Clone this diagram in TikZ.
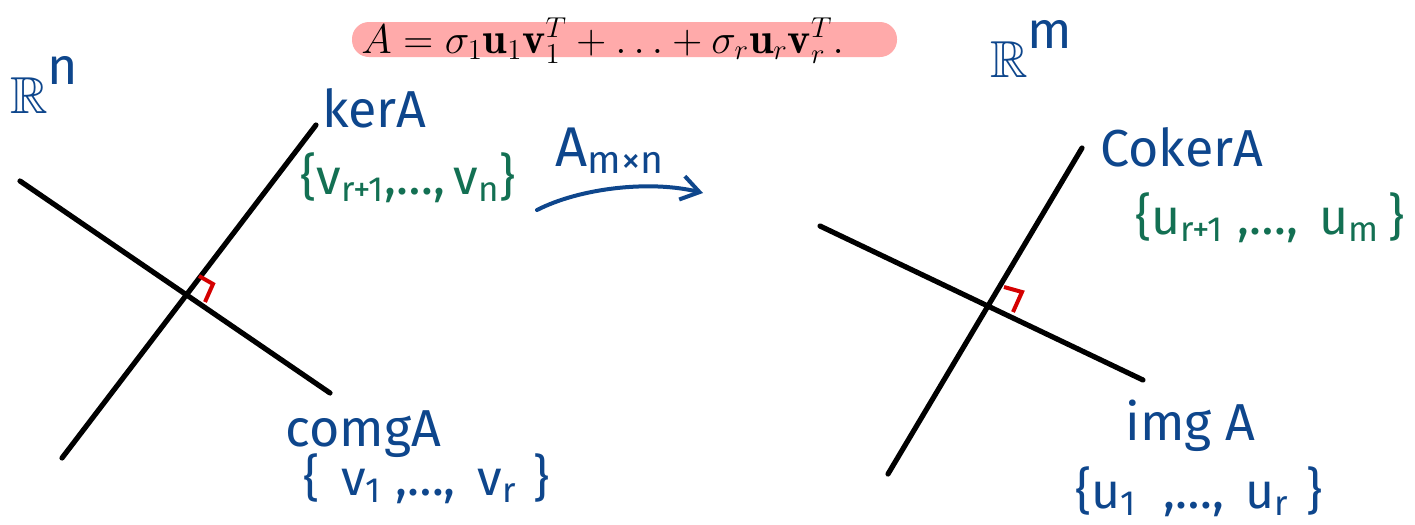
\documentclass[tikz,border=0pt]{standalone}
\usepackage{amssymb}
\usepackage{fontspec}
\newfontfamily\handfont{Fira Sans}
\usetikzlibrary{arrows.meta}
\definecolor{inkblue}{HTML}{0E468C}
\definecolor{inkgreen}{HTML}{137053}
\definecolor{inkred}{HTML}{D40000}
\definecolor{hilite}{HTML}{FFAAAA}
\begin{document}
\begin{tikzpicture}[x=0.5pt,y=-0.5pt,
  axisline/.style={line width=2.6pt,line cap=round,black},
  rightmark/.style={line width=2pt,inkred,line join=miter},
  bluelabel/.style={inkblue,font=\handfont\fontsize{26}{30}\selectfont,anchor=base west,inner sep=0pt},
  greenlabel/.style={inkgreen,font=\handfont\fontsize{25}{30}\selectfont,anchor=base west,inner sep=0pt},
  maparrow/.style={inkblue,line width=2pt,line cap=round,-{Straight Barb[length=9pt,width=12pt,line width=2pt]}}]
\useasboundingbox (0,0) rectangle (1415,525);
% formula
\fill[hilite,rounded corners=8.5pt] (352,22) rectangle (897,57);
\node[anchor=base west,inner sep=0pt,font=\fontsize{22}{26}\selectfont] (formula) at (361,53)
  {$A=\sigma_1\mathbf{u}_1\mathbf{v}_1^T+\ldots+\sigma_r\mathbf{u}_r\mathbf{v}_r^T.$};
% left space
\coordinate (kerTop) at (316,125);
\coordinate (kerBot) at (62,458);
\coordinate (comLeft) at (20,181);
\coordinate (comRight) at (330,393);
\draw[axisline] (kerTop) -- (kerBot);
\draw[axisline] (comLeft) -- (comRight);
\coordinate (lm1) at (199,276);
\coordinate (lm2) at (213,284);
\coordinate (lm3) at (205,302);
\draw[rightmark] (lm1) -- (lm2) -- (lm3);
\node[bluelabel] (Rn) at (10,113) {$\mathbb{R}$\raisebox{0.55em}{n}};
\node[bluelabel] (ker) at (322,127) {kerA};
\node[greenlabel] (kerbasis) at (300,194) {\{v\textsubscript{r+1},…,\,v\textsubscript{n}\}};
\node[bluelabel] (comg) at (285,446) {comgA};
\node[greenlabel,inkblue] (comgbasis) at (303,495) {\{ \,v\textsubscript{1} ,…, \,v\textsubscript{r}\,\,\}};
% map
\node[bluelabel,font=\handfont\fontsize{28}{32}\selectfont] (Amn) at (555,166) {A\textsubscript{m×n}};
\coordinate (arrS) at (537,210);
\coordinate (arrE) at (703,193);
\draw[maparrow] (arrS) .. controls (580,188) and (650,180) .. (arrE);
% right space
\coordinate (cokTop) at (1082,148);
\coordinate (cokBot) at (888,474);
\coordinate (imgLeft) at (820,226);
\coordinate (imgRight) at (1143,380);
\draw[axisline] (cokTop) -- (cokBot);
\draw[axisline] (imgLeft) -- (imgRight);
\coordinate (rm1) at (1004,287);
\coordinate (rm2) at (1022,292);
\coordinate (rm3) at (1013,312);
\draw[rightmark] (rm1) -- (rm2) -- (rm3);
\node[bluelabel] (Rm) at (990,77) {$\mathbb{R}$\raisebox{0.55em}{m}};
\node[bluelabel] (coker) at (1100,166) {CokerA};
\node[greenlabel] (cokbasis) at (1135,234) {\{u\textsubscript{r+1} ,…, \,u\textsubscript{m}\,\}};
\node[bluelabel] (img) at (1125,440) {img A};
\node[greenlabel,inkblue] (imgbasis) at (1075,508) {\{u\textsubscript{1}\ \ ,…, \,u\textsubscript{r}\,\,\}};
\end{tikzpicture}
\end{document}
